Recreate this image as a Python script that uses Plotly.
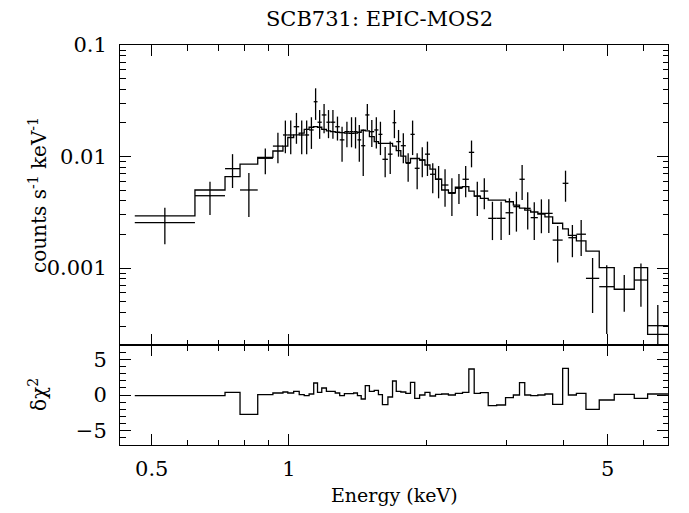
import numpy as np
import plotly.graph_objects as go

# ---- data ----
edges = [0.459, 0.622, 0.724, 0.781, 0.854, 0.922, 0.970, 0.994, 1.024, 1.053,
         1.080, 1.107, 1.133, 1.155, 1.180, 1.208, 1.234, 1.263, 1.292, 1.323,
         1.357, 1.386, 1.413, 1.440, 1.470, 1.501, 1.538, 1.571, 1.603, 1.648,
         1.687, 1.719, 1.759, 1.804, 1.847, 1.887, 1.934, 1.987, 2.038, 2.096,
         2.162, 2.237, 2.317, 2.402, 2.480, 2.548, 2.629, 2.735, 2.854, 2.985,
         3.105, 3.203, 3.289, 3.389, 3.514, 3.642, 3.787, 3.983, 4.100, 4.269,
         4.480, 4.791, 5.168, 5.718, 6.117, 6.779]

counts = [0.00255, 0.00445, 0.00778, 0.00501, 0.00964, 0.0124, 0.0156, 0.0156, 0.0185, 0.0156,
          0.0156, 0.0173, 0.0310, 0.0203, 0.0236, 0.0203, 0.0203, 0.0185, 0.0141, 0.0167,
          0.0167, 0.0167, 0.0141, 0.0125, 0.0236, 0.0167, 0.0173, 0.0158, 0.00944, 0.0105,
          0.0201, 0.0136, 0.0125, 0.00869, 0.0158, 0.00784, 0.00930, 0.0105, 0.00693, 0.00625,
          0.00555, 0.00468, 0.00519, 0.00625, 0.0109, 0.00442, 0.00490, 0.00279, 0.00279, 0.00313,
          0.00355, 0.00625, 0.00343, 0.00283, 0.00309, 0.00309, 0.00178, 0.00575, 0.00187, 0.00201,
          0.000808, 0.000680, 0.000644, 0.000780, 0.000304]

counts_hi = [0.00347, 0.00594, 0.0105, 0.00711, 0.0118, 0.0163, 0.0210, 0.0210, 0.0246, 0.0210,
             0.0210, 0.0225, 0.0409, 0.0261, 0.0296, 0.0261, 0.0261, 0.0228, 0.0185, 0.0205,
             0.0225, 0.0225, 0.0192, 0.0175, 0.0296, 0.0213, 0.0225, 0.0205, 0.0122, 0.0136,
             0.0261, 0.0173, 0.0162, 0.0107, 0.0210, 0.0107, 0.0121, 0.0136, 0.00869, 0.00822,
             0.00768, 0.00638, 0.00697, 0.00822, 0.0139, 0.00594, 0.00638, 0.00393, 0.00393, 0.00422,
             0.00483, 0.00839, 0.00477, 0.00388, 0.00413, 0.00413, 0.00238, 0.00746, 0.00243, 0.00269,
             0.00123, 0.00106, 0.000865, 0.00110, 0.000466]

counts_lo = [0.00163, 0.00299, 0.00522, 0.00287, 0.00693, 0.00869, 0.0107, 0.0105, 0.0130, 0.0105,
             0.0105, 0.0117, 0.0213, 0.0144, 0.0162, 0.0146, 0.0144, 0.0139, 0.00898, 0.0121,
             0.0121, 0.0118, 0.00898, 0.00669, 0.0173, 0.0122, 0.0118, 0.0103, 0.00651, 0.00697,
             0.0146, 0.00996, 0.00869, 0.00594, 0.0103, 0.00508, 0.00651, 0.00669, 0.00468, 0.00422,
             0.00355, 0.00293, 0.00375, 0.00431, 0.00800, 0.00293, 0.00336, 0.00178, 0.00178, 0.00198,
             0.00212, 0.00407, 0.00222, 0.00178, 0.00205, 0.00206, 0.00112, 0.00393, 0.00125, 0.00128,
             0.000395, 0.000256, 0.000406, 0.000450, 0.000190]

model = [0.00294, 0.00501, 0.00659, 0.00856, 0.00983, 0.0112, 0.0124, 0.0148, 0.0156, 0.0162,
         0.0175, 0.0183, 0.0185, 0.0183, 0.0175, 0.0170, 0.0167, 0.0165, 0.0164, 0.0162,
         0.0161, 0.0162, 0.0165, 0.0172, 0.0170, 0.0151, 0.0136, 0.0131, 0.0131, 0.0131,
         0.0124, 0.0113, 0.0101, 0.00880, 0.00960, 0.00960, 0.00930, 0.00839, 0.00772, 0.00625,
         0.00501, 0.00473, 0.00530, 0.00536, 0.00490, 0.00442, 0.00422, 0.00407, 0.00407, 0.00393,
         0.00367, 0.00345, 0.00331, 0.00318, 0.00305, 0.00288, 0.00252, 0.00224, 0.00196, 0.00175,
         0.00142, 0.00101, 0.000644, 0.00101, 0.000254]

delchi = [-0.1, -0.1, 0.37, -2.7, 0.05, 0.28, 0.42, 0.28, 0.51, 0.05,
          -0.1, 0.14, 1.68, 0.37, 0.98, 0.51, 0.51, 0.28, -0.1, 0.19,
          0.19, 0.28, -0.1, -0.56, 1.3, 0.51, 0.65, 0.05, -1.35, -0.28,
          1.96, 0.51, 0.42, 0.23, 1.77, -0.47, 0.0, 0.37, -0.14, 0.09,
          0.14, 0.0, 0.23, 0.37, 3.64, 0.23, 0.33, -1.49, -1.4, -0.37,
          0.0, 1.72, 0.0, -0.1, 0.0, 0.14, -1.3, 3.73, 0.0, 0.23,
          -2.0, -0.7, 0.09, -0.47, 0.14]

x_major = [0.5, 1, 5]
x_major_text = ["0.5", "1", "5"]
x_minor = [0.6, 0.7, 0.8, 0.9, 2, 3, 4, 6]
y_major = [0.001, 0.01, 0.1]
y_major_text = ["0.001", "0.01", "0.1"]
y_minor = [m * d for d in (0.0001, 0.001, 0.01) for m in range(2, 10)]
r_major = [-5, 0, 5]

# ---- build figure ----
lo = np.array(edges[:-1])
hi = np.array(edges[1:])
cen = np.sqrt(lo * hi)
c = np.array(counts)

FONT = "DejaVu Serif"
BLACK = "black"
LW = 1.3
FRAME = 1.0

fig = go.Figure()
fig.add_trace(go.Scatter(
    x=cen, y=c, mode="markers", marker=dict(size=1, color=BLACK),
    error_x=dict(type="data", symmetric=False, array=hi - cen, arrayminus=cen - lo,
                 width=0, thickness=LW, color=BLACK),
    error_y=dict(type="data", symmetric=False, array=np.array(counts_hi) - c,
                 arrayminus=c - np.array(counts_lo), width=0, thickness=LW, color=BLACK),
    xaxis="x", yaxis="y", showlegend=False, hoverinfo="skip"))
fig.add_trace(go.Scatter(
    x=edges, y=model + [model[-1]], mode="lines", line=dict(shape="hv", color=BLACK, width=LW),
    xaxis="x", yaxis="y", showlegend=False, hoverinfo="skip"))
fig.add_trace(go.Scatter(
    x=edges, y=delchi + [delchi[-1]], mode="lines", line=dict(shape="hv", color=BLACK, width=LW),
    xaxis="x2", yaxis="y2", showlegend=False, hoverinfo="skip"))

TICKFONT = dict(family=FONT, size=21, color=BLACK)
xr = [np.log10(0.426), np.log10(6.78)]
common_x = dict(type="log", range=xr, tickvals=x_major, ticktext=x_major_text,
                ticks="inside", ticklen=11, tickwidth=1, tickcolor=BLACK,
                showline=True, linecolor=BLACK, linewidth=FRAME, mirror="allticks",
                showgrid=False, zeroline=False, tickfont=TICKFONT,
                minor=dict(tickvals=x_minor, ticks="inside", ticklen=5.5, tickcolor=BLACK, showgrid=False))

# page body adds an 8px offset; the figure is sized so the plot area lands at 120..668 x 45..445
fig.update_layout(
    width=681, height=505,
    margin=dict(l=112, r=21, t=37, b=68),
    paper_bgcolor="white", plot_bgcolor="white",
    font=dict(family=FONT, size=18, color=BLACK),
    xaxis=dict(domain=[0, 1], anchor="y", showticklabels=False, **common_x),
    xaxis2=dict(domain=[0, 1], anchor="y2", showticklabels=True, matches="x",
                ticklabelstandoff=5, **common_x),
    yaxis=dict(domain=[0.25, 1], anchor="x", type="log", range=[np.log10(2.04e-4), -1],
               tickvals=y_major, ticktext=y_major_text, ticks="inside", ticklen=11,
               tickcolor=BLACK, showline=True, linecolor=BLACK, linewidth=FRAME,
               mirror="allticks", showgrid=False, zeroline=False, ticklabelstandoff=8,
               tickfont=TICKFONT,
               minor=dict(tickvals=y_minor, ticks="inside", ticklen=5.5, tickcolor=BLACK,
                          showgrid=False)),
    yaxis2=dict(domain=[0, 0.25], anchor="x2", range=[-7, 7],
                tickvals=r_major, ticks="inside", ticklen=11, tickcolor=BLACK,
                showline=True, linecolor=BLACK, linewidth=FRAME, mirror="allticks",
                showgrid=False, zeroline=False, ticklabelstandoff=8, tickfont=TICKFONT,
                minor=dict(dtick=1, tick0=0, ticks="inside", ticklen=5.5, tickcolor=BLACK,
                           showgrid=False)),
    title=dict(text="SCB731: EPIC-MOS2", x=(379.5 - 8) / 681, xanchor="center",
               y=1 - 11 / 505, yanchor="middle", font=dict(family=FONT, size=21, color=BLACK)),
    annotations=[
        dict(text="counts s<sup>-1</sup> keV<sup>-1</sup>", xref="paper", yref="paper",
             x=-82 / 548, y=0.625, textangle=-90, showarrow=False, xanchor="center",
             yanchor="middle", font=dict(family=FONT, size=20, color=BLACK)),
        dict(text="δχ<sup>2</sup>", xref="paper", yref="paper",
             x=-82 / 548, y=0.125, textangle=-90, showarrow=False, xanchor="center",
             yanchor="middle", font=dict(family=FONT, size=20, color=BLACK)),
        dict(text="Energy (keV)", xref="paper", yref="paper",
             x=0.5, y=-0.125, showarrow=False, xanchor="center", yanchor="middle",
             font=dict(family=FONT, size=19, color=BLACK)),
    ],
)

fig.write_html("out.html")
